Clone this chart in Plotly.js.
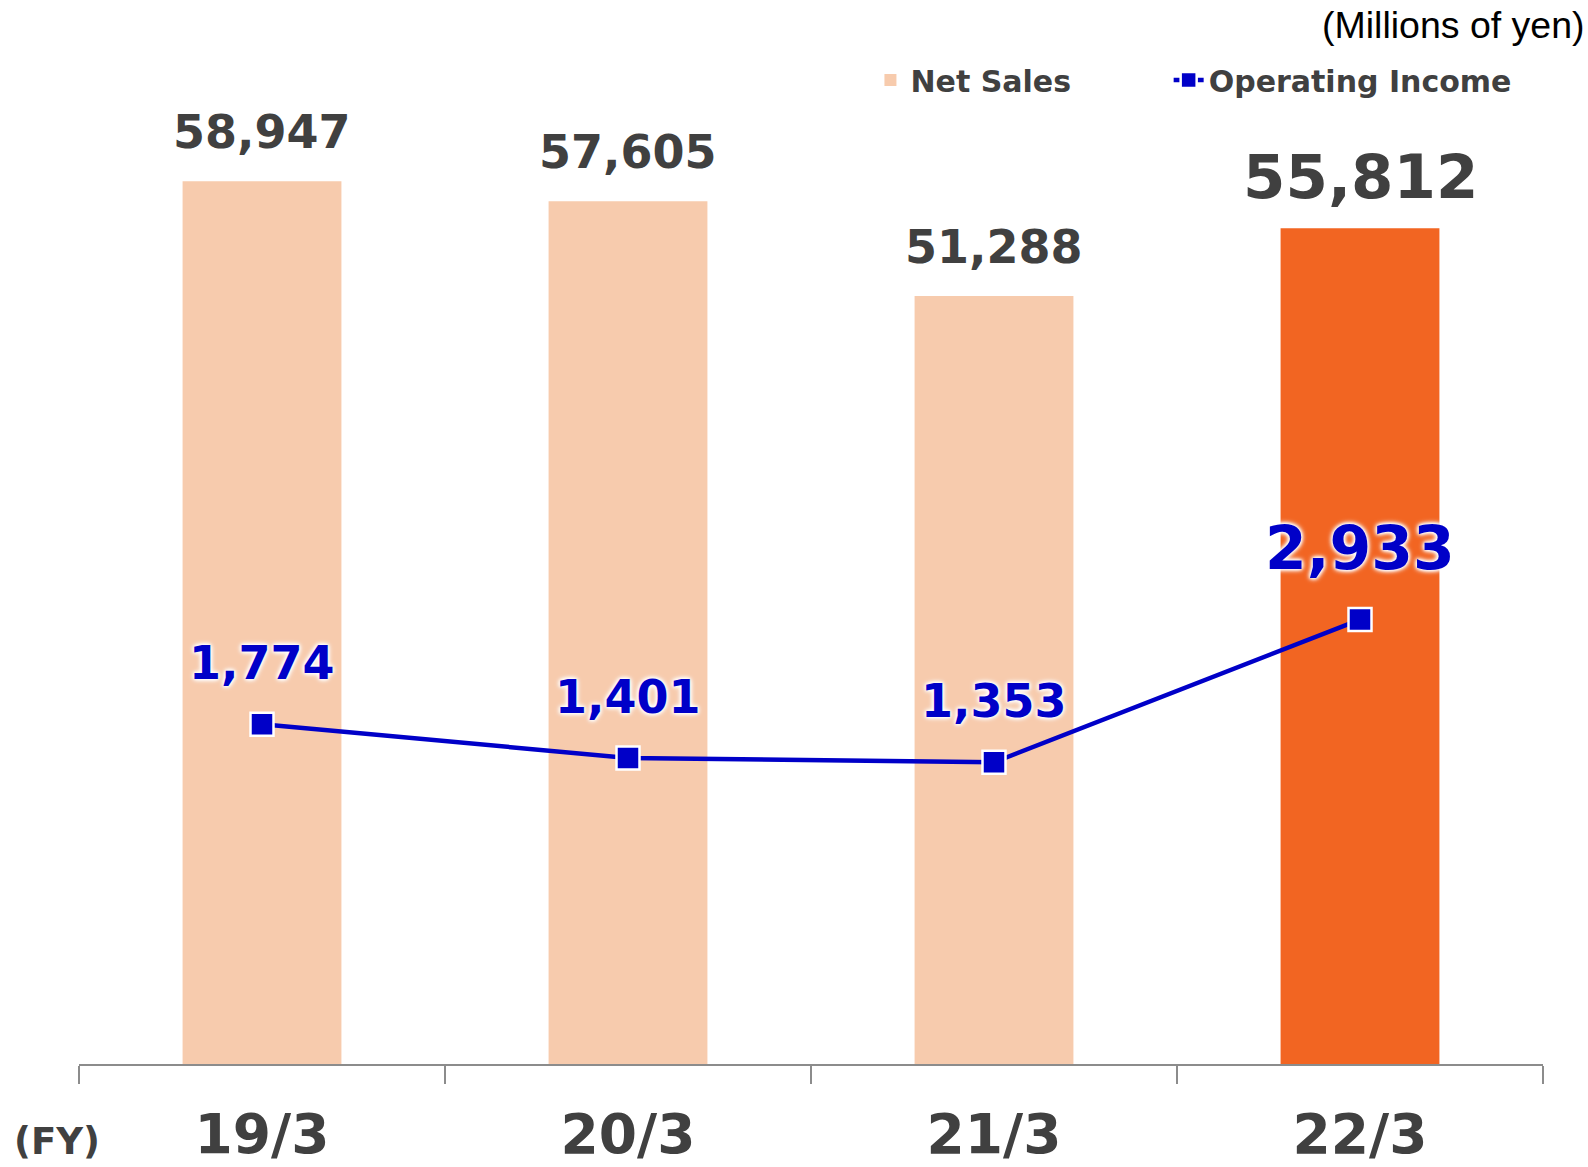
<!DOCTYPE html>
<html>
<head>
<meta charset="utf-8">
<script src="https://cdn.plot.ly/plotly-3.0.1.min.js"></script>
<style>html,body{margin:0;padding:0;background:#fff;}#chart{width:1588px;height:1167px;}</style>
</head>
<body>
<div id="chart"></div>
<script>
// ---- Data ----
const categories = ["19/3", "20/3", "21/3", "22/3"];
const netSales = [58947, 57605, 51288, 55812];
const operatingIncome = [1774, 1401, 1353, 2933];
const seriesNames = ["Net Sales", "Operating Income"];
const unitLabel = "(Millions of yen)";
const fyLabel = "(FY)";

// ---- Styles ----
const peach = "#F7CBAD";
const orange = "#F26522";
const blue = "#0000C8";
const gray = "#404040";
const numFont = "DejaVu Sans, Verdana, sans-serif";
const barColors = categories.map((c, i) => i === categories.length - 1 ? orange : peach);
const salesLabelSize = categories.map((c, i) => i === categories.length - 1 ? 61 : 46);
const salesLabelShift = categories.map((c, i) => i === categories.length - 1 ? 52 : 49);
const incomeLabelSize = categories.map((c, i) => i === categories.length - 1 ? 60 : 46);
const incomeLabelShift = categories.map((c, i) => i === categories.length - 1 ? 72 : 61);
const fmt = v => v.toLocaleString("en-US");

const traces = [
  {
    type: "bar",
    name: seriesNames[0],
    legend: "legend",
    x: categories,
    y: netSales,
    width: 0.434,
    marker: {color: barColors, line: {width: 0}},
    hoverinfo: "x+y"
  },
  {
    type: "scatter",
    mode: "lines+markers",
    name: seriesNames[1],
    legend: "legend2",
    x: categories,
    y: operatingIncome,
    yaxis: "y2",
    line: {color: blue, width: 4.5},
    marker: {symbol: "square", size: 23, color: blue, line: {color: "#ffffff", width: 2.5}},
    hoverinfo: "x+y"
  }
];

const annotations = [];
categories.forEach((c, i) => {
  annotations.push({
    x: c, y: netSales[i], xref: "x", yref: "y",
    text: fmt(netSales[i]), showarrow: false,
    yanchor: "middle", xanchor: "center", yshift: salesLabelShift[i],
    font: {family: numFont, size: salesLabelSize[i], color: gray, weight: "bold"}
  });
  annotations.push({
    x: c, y: operatingIncome[i], xref: "x", yref: "y2",
    text: fmt(operatingIncome[i]), showarrow: false,
    yanchor: "middle", xanchor: "center", yshift: incomeLabelShift[i],
    font: {family: numFont, size: incomeLabelSize[i], color: blue, weight: "bold",
           shadow: "0 0 3px #fff, 0 0 4px #fff, 0 0 5px #fff, 0 0 6px #fff"}
  });
});
annotations.push({
  xref: "paper", yref: "paper", x: 1.030, y: 1.0, xanchor: "right", yanchor: "top",
  yshift: -2, text: unitLabel, showarrow: false,
  font: {family: "Liberation Sans, Arial, sans-serif", size: 37.5, color: "#000"}
});
annotations.push({
  xref: "paper", yref: "paper", x: -0.0152, y: 0, xanchor: "center", yanchor: "middle",
  yshift: -77, text: fyLabel, showarrow: false,
  font: {family: numFont, size: 37, color: gray, weight: "bold"}
});

const legendFont = {family: numFont, size: 30, color: gray, weight: "bold"};

const layout = {
  width: 1588, height: 1167,
  margin: {l: 79, r: 44.5, t: 0, b: 102.5, pad: 0},
  paper_bgcolor: "#fff", plot_bgcolor: "#fff",
  showlegend: true,
  legend: {
    orientation: "h", xref: "paper", yref: "paper",
    x: 0.5406, y: 0.9248, xanchor: "left", yanchor: "middle",
    font: legendFont, bgcolor: "rgba(0,0,0,0)"
  },
  legend2: {
    orientation: "h", xref: "paper", yref: "paper",
    x: 0.7443, y: 0.9248, xanchor: "left", yanchor: "middle",
    font: legendFont, bgcolor: "rgba(0,0,0,0)"
  },
  xaxis: {
    type: "category", range: [-0.5, 3.5],
    showline: true, linecolor: "#8c8c8c", linewidth: 2,
    ticks: "outside", tickson: "boundaries", ticklen: 18, tickwidth: 2, tickcolor: "#8c8c8c",
    ticklabelstandoff: 21,
    tickfont: {family: numFont, size: 55, color: gray, weight: "bold"},
    showgrid: false, zeroline: false, fixedrange: true
  },
  yaxis: {
    range: [0, 71047], visible: false, showgrid: false, zeroline: false, fixedrange: true
  },
  yaxis2: {
    range: [-1987, 9791], overlaying: "y", side: "right", visible: false,
    showgrid: false, zeroline: false, fixedrange: true
  },
  annotations: annotations
};

Plotly.newPlot("chart", traces, layout, {displayModeBar: false, staticPlot: true});
</script>
</body>
</html>
